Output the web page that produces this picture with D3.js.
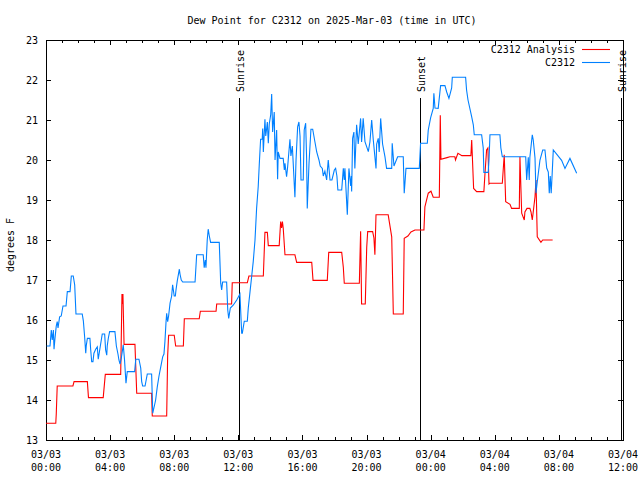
<!DOCTYPE html>
<html><head><meta charset="utf-8">
<script src="https://cdn.jsdelivr.net/npm/d3@7"></script>
<style>
html,body{margin:0;padding:0;background:#fff;}
svg text{font-family:"DejaVu Sans Mono",monospace;font-size:10px;fill:#000;}
</style></head>
<body><svg id="c" width="640" height="480"></svg>
<script>
// ---- data (hours since 2025-03-03 00:00 UTC, dew point in °F) ----
const analysisHours = [0.00,0.61,0.64,0.70,1.68,1.75,2.58,2.65,3.57,3.70,4.66,4.74,4.77,4.80,4.87,5.55,5.66,6.59,6.63,7.53,7.59,7.65,8.00,8.09,8.57,8.63,9.56,9.63,10.61,10.65,11.58,11.62,12.56,12.66,13.56,13.66,13.81,13.87,14.55,14.64,14.70,14.75,14.80,14.91,15.53,15.64,16.58,16.66,17.55,17.64,18.45,18.55,18.61,19.55,19.59,19.63,19.69,19.92,20.01,20.07,20.38,20.46,20.52,20.59,21.35,21.57,21.67,22.29,22.35,22.58,22.77,23.02,23.58,23.64,23.85,24.02,24.16,24.54,24.60,24.64,25.02,25.20,25.51,25.55,25.70,25.95,26.51,26.56,26.68,26.87,27.32,27.39,27.49,27.57,27.64,27.70,28.47,28.59,28.68,28.95,29.05,29.53,29.57,29.68,29.84,29.88,30.01,30.19,30.26,30.34,30.51,30.57,30.65,30.88,30.99,31.61];
const analysisValues = [13.42,13.42,13.65,14.35,14.35,14.46,14.46,14.06,14.06,14.64,14.64,16.65,16.40,16.65,15.39,15.39,14.17,14.17,13.60,13.60,15.10,15.62,15.62,15.35,15.35,16.03,16.03,16.22,16.22,16.40,16.40,16.93,16.93,17.10,17.10,18.19,18.19,17.86,17.86,18.46,18.30,18.46,18.30,17.63,17.63,17.44,17.44,16.99,16.99,17.69,17.69,17.32,16.92,16.92,17.58,18.22,16.40,16.40,17.82,18.21,18.21,18.05,17.63,18.63,18.63,18.08,16.15,16.15,18.04,18.10,18.20,18.25,18.25,18.83,19.17,19.22,19.07,19.07,21.12,20.02,20.06,20.08,20.08,20.00,20.17,20.11,20.11,20.50,19.29,19.21,19.21,19.67,20.25,20.30,19.40,19.42,19.42,20.13,18.96,18.89,18.79,18.79,20.08,18.67,18.50,18.70,18.79,18.79,18.70,18.50,19.08,19.50,18.08,17.94,18.00,18.00];

const stationHours = [0.04,0.25,0.33,0.39,0.46,0.50,0.56,0.64,0.70,0.75,0.85,0.95,1.06,1.25,1.33,1.50,1.58,1.70,1.79,1.87,2.26,2.33,2.41,2.48,2.51,2.58,2.74,2.79,2.85,2.93,2.99,3.10,3.20,3.26,3.37,3.45,3.51,3.66,3.72,3.79,3.82,3.89,3.97,4.30,4.39,4.49,4.55,4.62,4.70,4.82,4.90,4.99,5.07,5.53,5.60,5.80,5.91,5.97,6.03,6.18,6.32,6.59,6.66,6.76,6.84,6.94,7.05,7.16,7.28,7.36,7.42,7.49,7.53,7.59,7.65,7.74,7.84,7.90,8.00,8.07,8.11,8.19,8.32,8.36,8.44,8.53,9.30,9.40,9.81,9.87,9.94,9.98,10.06,10.12,10.19,10.27,10.81,10.90,10.96,11.02,11.27,11.34,11.40,11.50,11.68,11.90,12.10,12.21,12.25,12.37,12.56,12.62,12.73,12.83,12.93,13.04,13.14,13.24,13.31,13.39,13.49,13.52,13.56,13.66,13.71,13.77,13.81,13.87,13.93,14.02,14.08,14.14,14.24,14.29,14.39,14.45,14.49,14.60,14.80,14.87,14.91,15.01,15.07,15.22,15.28,15.37,15.53,15.60,15.70,15.78,15.85,15.91,16.05,16.11,16.20,16.26,16.30,16.41,16.53,16.64,16.78,16.89,17.03,17.11,17.24,17.30,17.40,17.51,17.61,17.72,17.84,17.99,18.07,18.15,18.21,18.45,18.55,18.61,18.65,18.80,18.90,19.01,19.05,19.07,19.13,19.21,19.27,19.38,19.48,19.63,19.69,19.79,19.90,20.11,20.21,20.32,20.42,20.59,20.63,20.73,20.79,20.88,21.00,21.15,21.25,21.57,21.60,21.71,21.94,22.29,22.35,22.46,23.29,23.33,23.37,23.79,23.85,24.00,24.16,24.20,24.27,24.47,24.62,24.89,25.00,25.14,25.31,25.35,26.18,26.24,26.33,26.56,26.66,26.72,27.18,27.28,27.32,27.59,27.64,27.70,28.32,28.38,28.47,29.93,29.99,30.09,30.15,30.19,30.34,30.40,30.51,30.57,30.65,30.82,30.99,31.13,31.24,31.34,31.40,31.46,31.52,31.58,31.65,32.17,32.38,32.69,33.11];
const stationValues = [15.35,15.35,15.75,15.50,15.75,15.27,15.54,15.85,15.96,15.80,16.08,16.10,16.35,16.35,16.71,16.71,17.10,17.10,16.88,16.15,16.15,15.98,15.58,15.17,15.35,15.54,15.54,15.25,14.96,14.96,15.17,15.27,15.33,15.02,15.30,15.50,15.65,15.65,15.25,15.12,15.35,15.55,15.71,15.71,15.35,15.15,15.00,14.90,15.05,15.38,15.00,14.42,14.71,14.71,15.02,15.02,14.80,14.46,14.35,14.35,14.65,14.65,13.67,13.85,14.00,14.32,14.60,14.83,15.08,15.15,15.46,15.96,16.17,15.96,16.10,16.42,16.60,16.88,16.60,16.60,16.75,16.98,17.27,17.15,17.00,16.95,16.95,17.63,17.63,17.31,17.50,17.31,18.00,18.27,18.10,17.94,17.94,16.92,16.75,16.95,16.95,16.25,16.04,16.30,16.37,16.50,16.65,15.67,15.67,15.97,15.97,16.30,16.71,17.08,17.46,18.00,18.79,19.33,19.92,20.52,20.52,20.79,20.20,21.02,20.60,20.80,20.95,20.42,20.90,21.13,21.65,20.70,21.20,20.00,20.75,19.52,20.20,20.04,20.04,19.75,19.92,19.58,19.80,20.52,20.10,20.35,19.07,20.00,20.83,20.95,20.60,19.50,19.50,20.75,20.92,20.05,18.79,19.92,20.77,20.77,20.45,20.20,20.00,19.85,19.79,19.60,19.72,19.50,20.00,19.50,19.50,19.75,19.79,19.60,19.25,19.25,19.79,19.50,19.79,18.63,19.79,19.35,19.60,19.21,20.54,20.70,19.79,20.88,20.40,21.04,20.45,21.04,20.46,20.21,20.45,21.00,20.50,19.79,20.40,20.54,20.20,21.04,20.40,20.08,19.79,19.79,20.42,19.85,20.08,20.08,19.17,19.79,19.79,20.10,20.42,20.42,20.75,21.06,21.29,21.67,21.30,21.29,21.86,21.86,21.70,21.54,21.80,22.07,22.07,21.75,21.50,21.08,20.88,20.63,20.63,20.30,19.69,19.69,20.00,20.63,20.63,20.30,20.08,20.08,19.50,20.07,19.50,20.07,20.63,20.50,20.05,19.17,19.45,20.00,20.25,20.25,19.80,19.70,19.17,19.60,19.17,19.65,20.25,19.99,19.79,20.04,19.67];

const seriesNames = ["C2312 Analysis", "C2312"];
const seriesColors = ["#ff0000", "#0080ff"];
const xTickHours = [0,4,8,12,16,20,24,28,32,36];
const xTickDates = ["03/03","03/03","03/03","03/03","03/03","03/03","03/04","03/04","03/04","03/04"];
const xTickTimes = ["00:00","04:00","08:00","12:00","16:00","20:00","00:00","04:00","08:00","12:00"];
const yTicks = [13,14,15,16,17,18,19,20,21,22,23];
const eventNames = ["Sunrise","Sunset","Sunrise"];
const eventHours = [12.07,23.33,35.90];
const titleText = "Dew Point for C2312 on 2025-Mar-03 (time in UTC)";
const yLabel = "degrees F";

// ---- layout ----
const L = 46, R = 623, T = 40, B = 440;
const svg = d3.select("#c");
const x = d3.scaleLinear().domain([0,36]).range([L,R]);
const y = d3.scaleLinear().domain([13,23]).range([B,T]);

// title
svg.append("text").attr("x",332).attr("y",24).attr("text-anchor","middle").text(titleText);
// y label
svg.append("text").attr("transform","translate(14,245) rotate(-90)").attr("text-anchor","middle").text(yLabel);

// axes via d3 axis generators
const minorHours = d3.range(0,37,1);
const axBottom = d3.axisBottom(x).tickValues(minorHours).tickSize(-3).tickFormat("");
const axBottomMajor = d3.axisBottom(x).tickValues(xTickHours).tickSize(-5).tickFormat("");
const axTop = d3.axisTop(x).tickValues(minorHours).tickSize(-3).tickFormat("");
const axTopMajor = d3.axisTop(x).tickValues(xTickHours).tickSize(-5).tickFormat("");
const axLeft = d3.axisLeft(y).tickValues(yTicks).tickSize(-5).tickFormat("");
const axRight = d3.axisRight(y).tickValues(yTicks).tickSize(-5).tickFormat("");
function drawAxis(gen, tx, ty){
  const g = svg.append("g").attr("transform",`translate(${tx},${ty})`).call(gen);
  g.select(".domain").remove();
  g.selectAll("line").attr("stroke","#000").attr("shape-rendering","crispEdges");
  return g;
}
drawAxis(axBottom,0,B); drawAxis(axBottomMajor,0,B);
drawAxis(axTop,0,T); drawAxis(axTopMajor,0,T);
drawAxis(axLeft,L,0); drawAxis(axRight,R,0);

// tick labels
const xl = svg.append("g");
xTickHours.forEach((h,i)=>{
  const t = xl.append("text").attr("x",x(h)).attr("text-anchor","middle");
  t.append("tspan").attr("x",x(h)).attr("y",458).text(xTickDates[i]);
  t.append("tspan").attr("x",x(h)).attr("y",471).text(xTickTimes[i]);
});
yTicks.forEach(v=>{
  svg.append("text").attr("x",38).attr("y",y(v)+4).attr("text-anchor","end").text(v);
});

// event lines
eventHours.forEach((h,i)=>{
  const xp = Math.round(x(h))+0.5;
  svg.append("line").attr("x1",xp).attr("x2",xp).attr("y1",98).attr("y2",B)
    .attr("stroke","#000").attr("stroke-width",1);
  svg.append("text").attr("transform",`translate(${xp+4},92) rotate(-90)`)
    .attr("text-anchor","start").text(eventNames[i]);
});

// border
svg.append("rect").attr("x",L+0.5).attr("y",T+0.5).attr("width",R-L).attr("height",B-T)
  .attr("fill","none").attr("stroke","#000").attr("stroke-width",1);

// series
const line = d3.line().x(d=>x(d[0])).y(d=>y(d[1]));
const analysis = analysisHours.map((h,i)=>[h,analysisValues[i]]);
const station = stationHours.map((h,i)=>[h,stationValues[i]]);
svg.append("path").datum(analysis).attr("d",line).attr("fill","none")
  .attr("stroke",seriesColors[0]).attr("stroke-width",1.1).attr("stroke-linejoin","miter");
svg.append("path").datum(station).attr("d",line).attr("fill","none")
  .attr("stroke",seriesColors[1]).attr("stroke-width",1.1).attr("stroke-linejoin","miter");

// legend
[0,1].forEach(i=>{
  const ly = 49 + i*13;
  svg.append("text").attr("x",575).attr("y",ly+4).attr("text-anchor","end").text(seriesNames[i]);
  svg.append("line").attr("x1",582).attr("x2",610).attr("y1",ly+0.5).attr("y2",ly+0.5)
    .attr("stroke",seriesColors[i]).attr("stroke-width",1.1);
});
</script></body></html>
